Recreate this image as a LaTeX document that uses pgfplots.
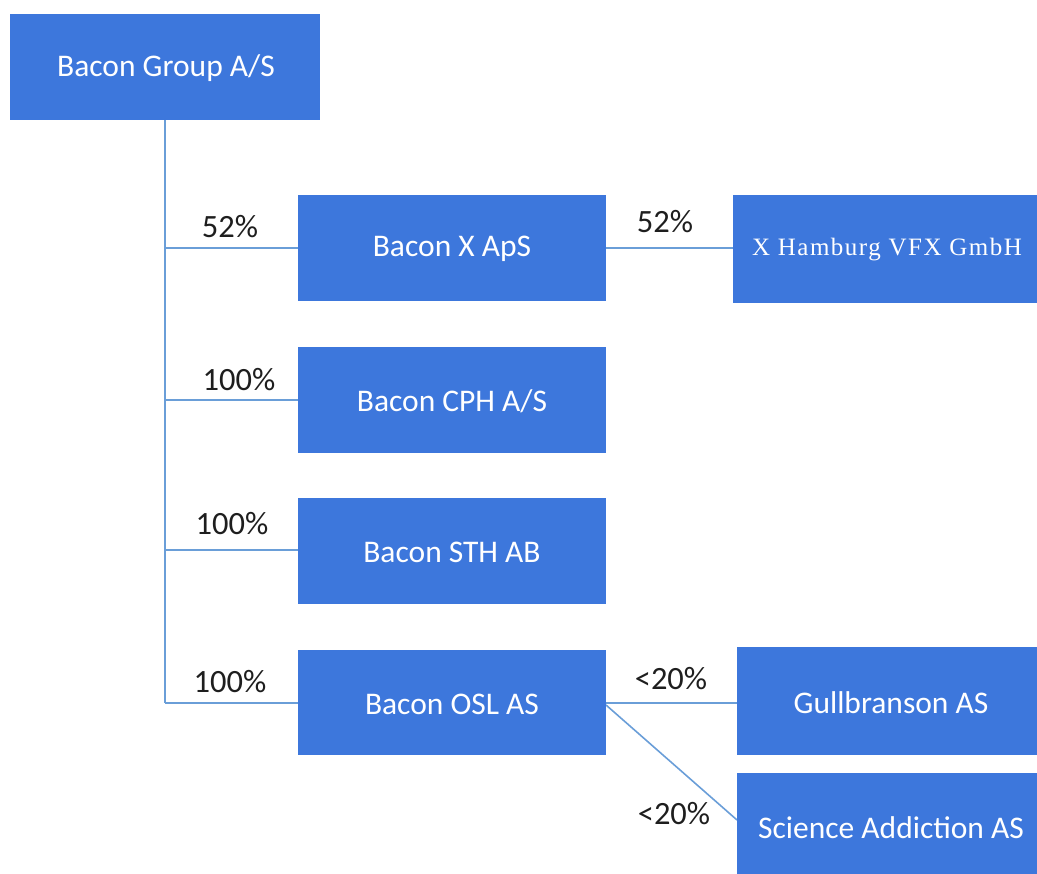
\documentclass[border=0pt]{standalone}
\usepackage{fontspec}
\setmainfont{Carlito}
\newfontfamily\serifx[LetterSpace=6]{Liberation Serif}
\usepackage{pgfplots}
\pgfplotsset{compat=1.18}
\definecolor{boxblue}{HTML}{3D77DC}
\definecolor{linkblue}{HTML}{6A9ED8}
\definecolor{pct}{HTML}{1E1E1E}
\begin{document}
\begin{tikzpicture}
\begin{axis}[
  scale only axis, width=1037pt, height=874pt,
  xmin=0, xmax=1037, ymin=0, ymax=874, y dir=reverse,
  axis lines=none, clip=false,
]
% invisible frame to keep the full canvas
\addplot[draw=none, mark=none] coordinates {(0,0) (1037,874)};
% connector lines
\addplot[linkblue, line width=1.6pt] coordinates {(165,120) (165,703)};
\addplot[linkblue, line width=1.6pt] coordinates {(165,248) (298,248)};
\addplot[linkblue, line width=1.6pt] coordinates {(165,400) (298,400)};
\addplot[linkblue, line width=1.6pt] coordinates {(165,550) (298,550)};
\addplot[linkblue, line width=1.6pt] coordinates {(165,703) (298,703)};
\addplot[linkblue, line width=1.6pt] coordinates {(606,248) (734,248)};
\addplot[linkblue, line width=1.6pt] coordinates {(606,703) (737,703)};
\addplot[linkblue, line width=1.6pt] coordinates {(606,705) (737,820)};
% boxes
\addplot[fill=boxblue, draw=none] coordinates {(10,14) (320,14) (320,120) (10,120)} -- cycle;
\addplot[fill=boxblue, draw=none] coordinates {(298,195) (606,195) (606,301) (298,301)} -- cycle;
\addplot[fill=boxblue, draw=none] coordinates {(733,195) (1037,195) (1037,303) (733,303)} -- cycle;
\addplot[fill=boxblue, draw=none] coordinates {(298,347) (606,347) (606,453) (298,453)} -- cycle;
\addplot[fill=boxblue, draw=none] coordinates {(298,498) (606,498) (606,604) (298,604)} -- cycle;
\addplot[fill=boxblue, draw=none] coordinates {(298,650) (606,650) (606,755) (298,755)} -- cycle;
\addplot[fill=boxblue, draw=none] coordinates {(737,647) (1037,647) (1037,755) (737,755)} -- cycle;
\addplot[fill=boxblue, draw=none] coordinates {(737,773) (1037,773) (1037,874) (737,874)} -- cycle;
% box texts
\node[white, font=\fontsize{31.5}{36}\selectfont] at (axis cs:166,68) {Bacon Group A/S};
\node[white, font=\fontsize{31.5}{36}\selectfont] at (axis cs:452,249) {Bacon X ApS};
\node[white, font=\serifx\fontsize{25}{30}\selectfont] at (axis cs:887,250) {X Hamburg VFX GmbH};
\node[white, font=\fontsize{31.5}{36}\selectfont] at (axis cs:452,401) {Bacon CPH A/S};
\node[white, font=\fontsize{31.5}{36}\selectfont] at (axis cs:452,552) {Bacon STH AB};
\node[white, font=\fontsize{31.5}{36}\selectfont] at (axis cs:452,704) {Bacon OSL AS};
\node[white, font=\fontsize{31.5}{36}\selectfont] at (axis cs:891,703) {Gullbranson AS};
\node[white, font=\fontsize{31.5}{36}\selectfont] at (axis cs:891,828) {Science Addiction AS};
% percentages
\node[pct, font=\fontsize{32.5}{38}\selectfont] at (axis cs:230,227) {52\%};
\node[pct, font=\fontsize{32.5}{38}\selectfont] at (axis cs:665,222) {52\%};
\node[pct, font=\fontsize{32.5}{38}\selectfont] at (axis cs:239,380) {100\%};
\node[pct, font=\fontsize{32.5}{38}\selectfont] at (axis cs:232,524) {100\%};
\node[pct, font=\fontsize{32.5}{38}\selectfont] at (axis cs:230,682) {100\%};
\node[pct, font=\fontsize{32.5}{38}\selectfont] at (axis cs:671,679) {<20\%};
\node[pct, font=\fontsize{32.5}{38}\selectfont] at (axis cs:674,814) {<20\%};
\end{axis}
\end{tikzpicture}
\end{document}
